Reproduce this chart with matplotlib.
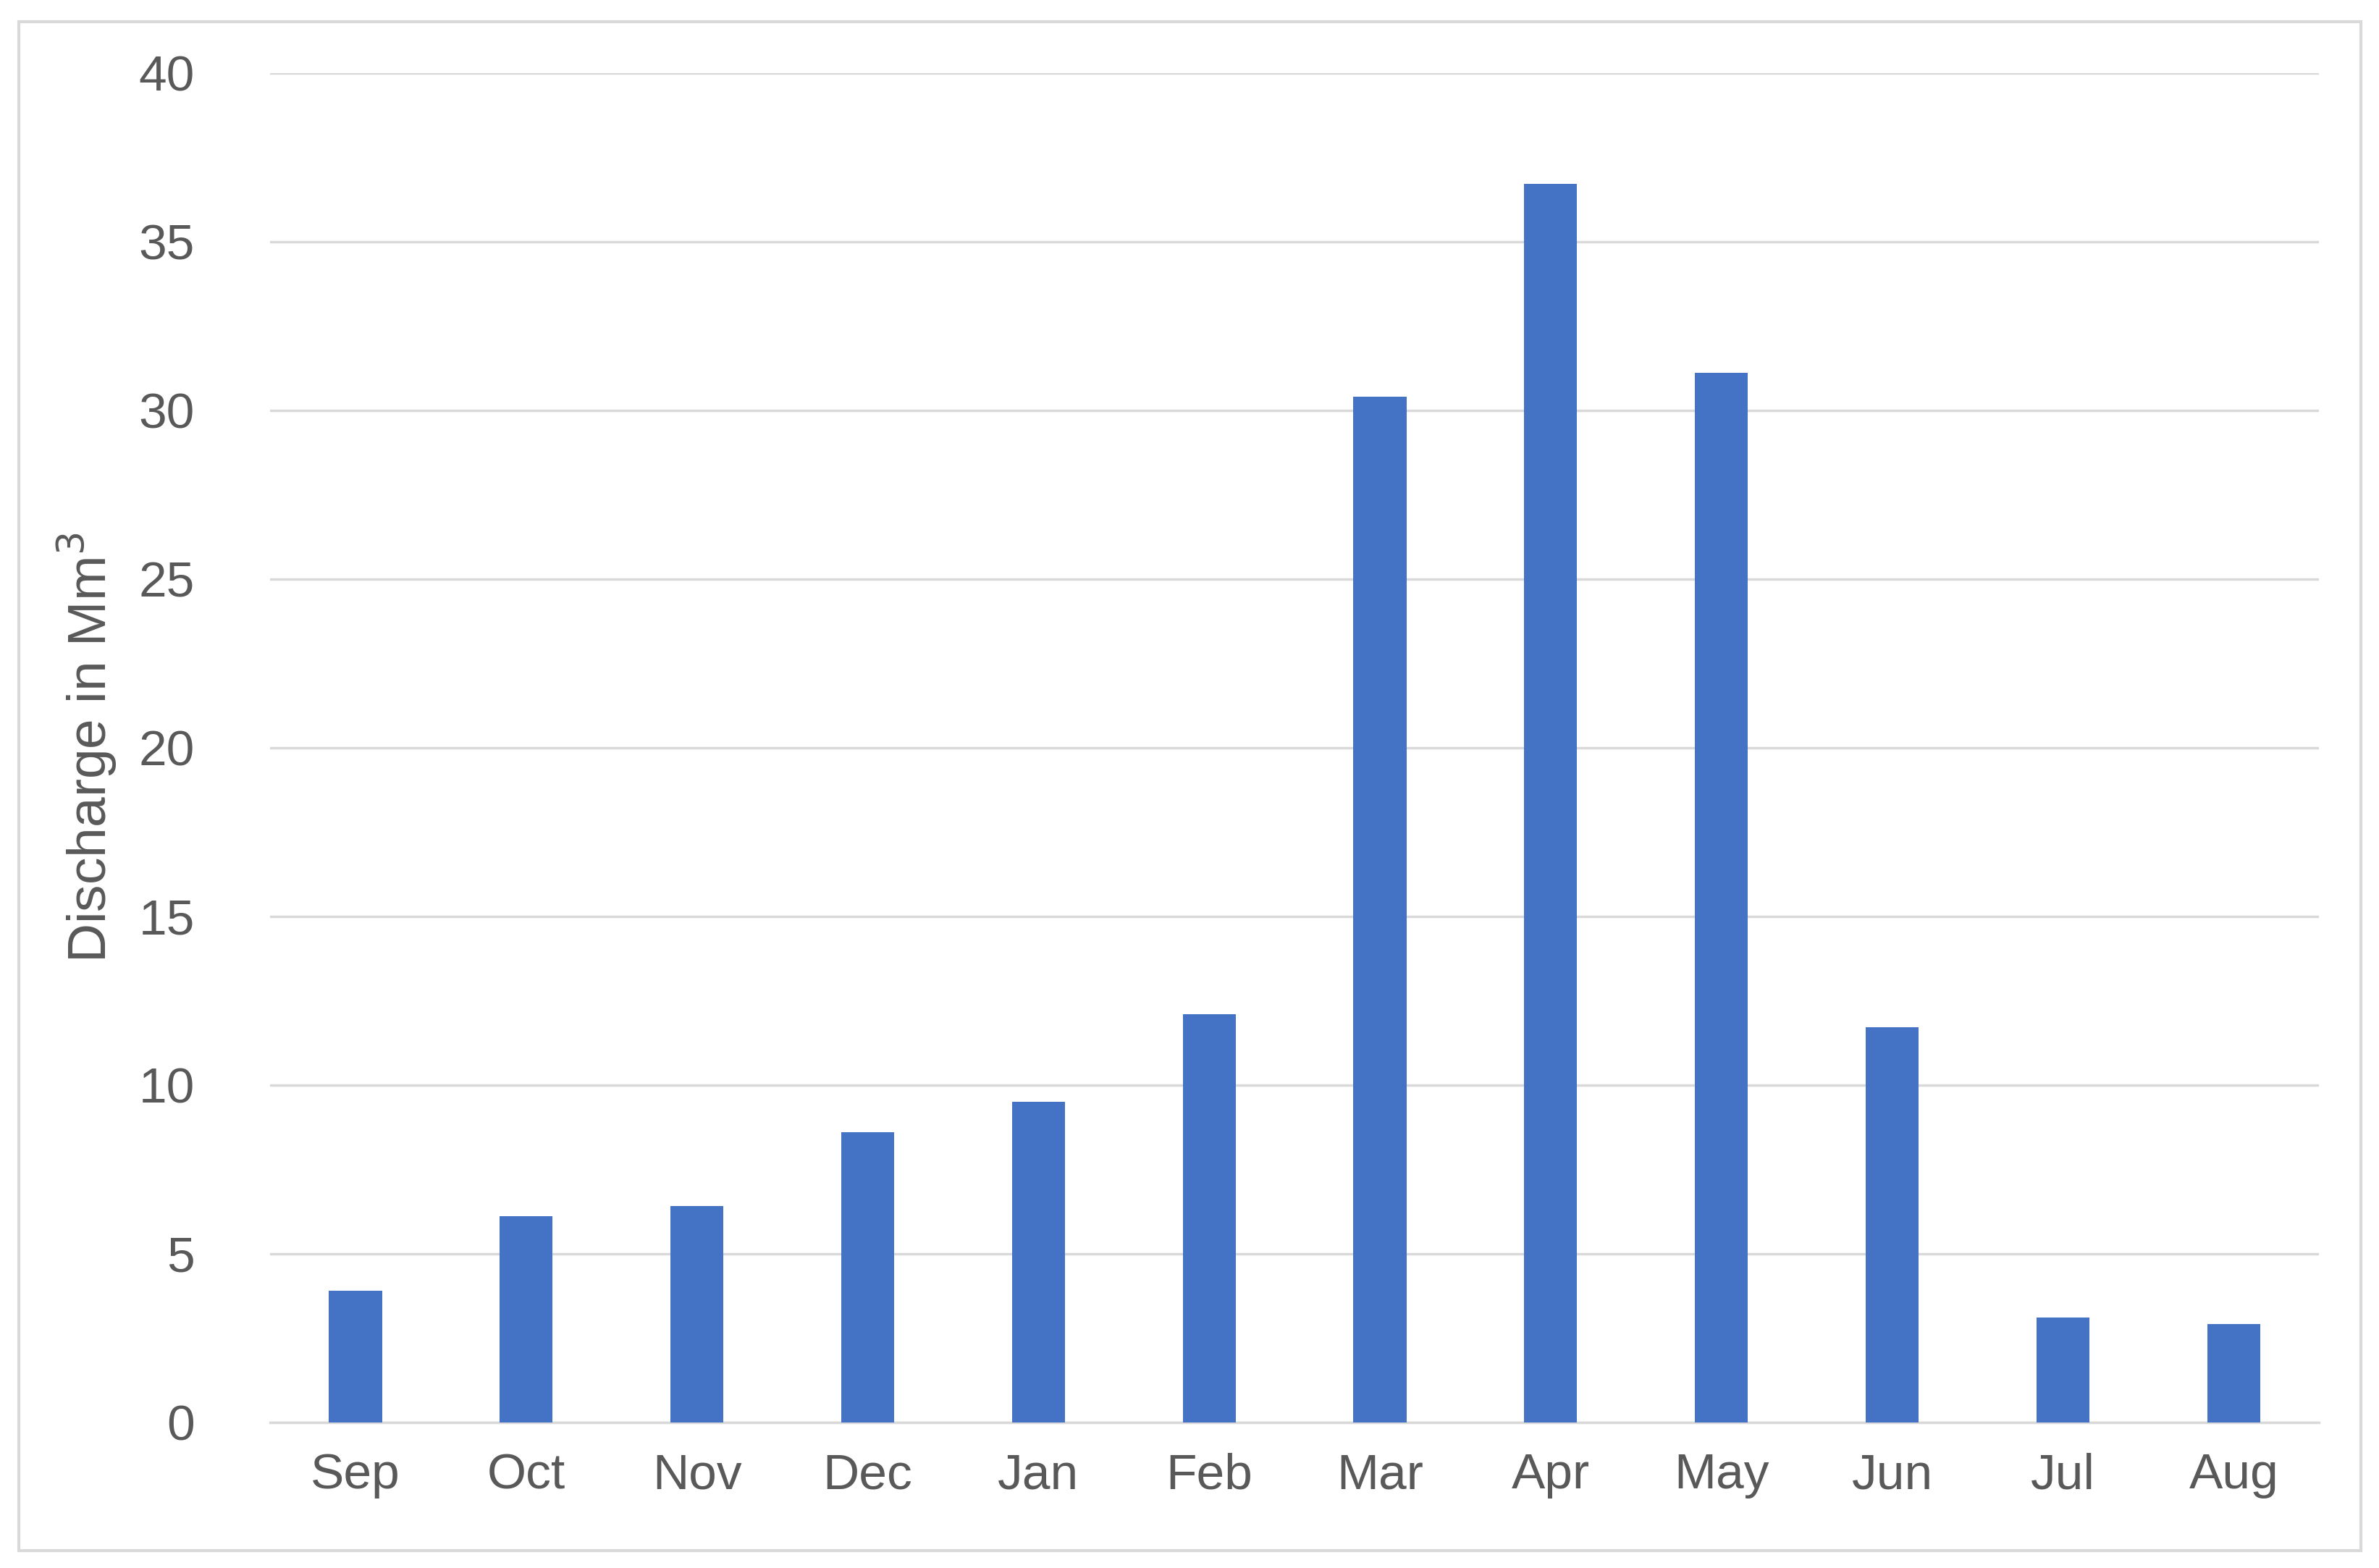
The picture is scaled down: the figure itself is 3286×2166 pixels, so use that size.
import matplotlib.pyplot as plt
from matplotlib.patches import Rectangle

months = ['Sep', 'Oct', 'Nov', 'Dec', 'Jan', 'Feb', 'Mar', 'Apr', 'May',
          'Jun', 'Jul', 'Aug']
discharge = [3.9, 6.1, 6.4, 8.6, 9.5, 12.1, 30.4, 36.7, 31.1, 11.7, 3.1, 2.9]

plt.rcParams['font.family'] = ['Liberation Sans', 'DejaVu Sans']
grey = '#595959'

fig = plt.figure(figsize=(32.87, 21.66), dpi=100)
ax = fig.add_axes([0.1135, 0.093, 0.861, 0.8605])
fig.patches.append(Rectangle((0.008, 0.011), 0.984, 0.975, transform=fig.transFigure,
                             fill=False, edgecolor='#d9d9d9', linewidth=3))

ax.bar(range(len(months)), discharge, width=0.31, color='#4472C4', zorder=3)
ax.set_xlim(-0.5, len(months) - 0.5)
ax.set_ylim(0, 40)
ax.set_yticks(range(0, 41, 5))
ax.set_xticks(range(len(months)))
ax.set_xticklabels(months)
ax.grid(axis='y', color='#d9d9d9', linewidth=2.5, zorder=0)
for s in ['top', 'right', 'left']:
    ax.spines[s].set_visible(False)
ax.spines['bottom'].set_color('#d9d9d9')
ax.spines['bottom'].set_linewidth(2.5)
ax.tick_params(length=0, labelsize=50, colors=grey, pad=30)
ax.tick_params(axis='y', pad=75)
ax.set_ylabel('Discharge in Mm$^3$', fontsize=54, color=grey, labelpad=20)

fig.savefig('out.png')
